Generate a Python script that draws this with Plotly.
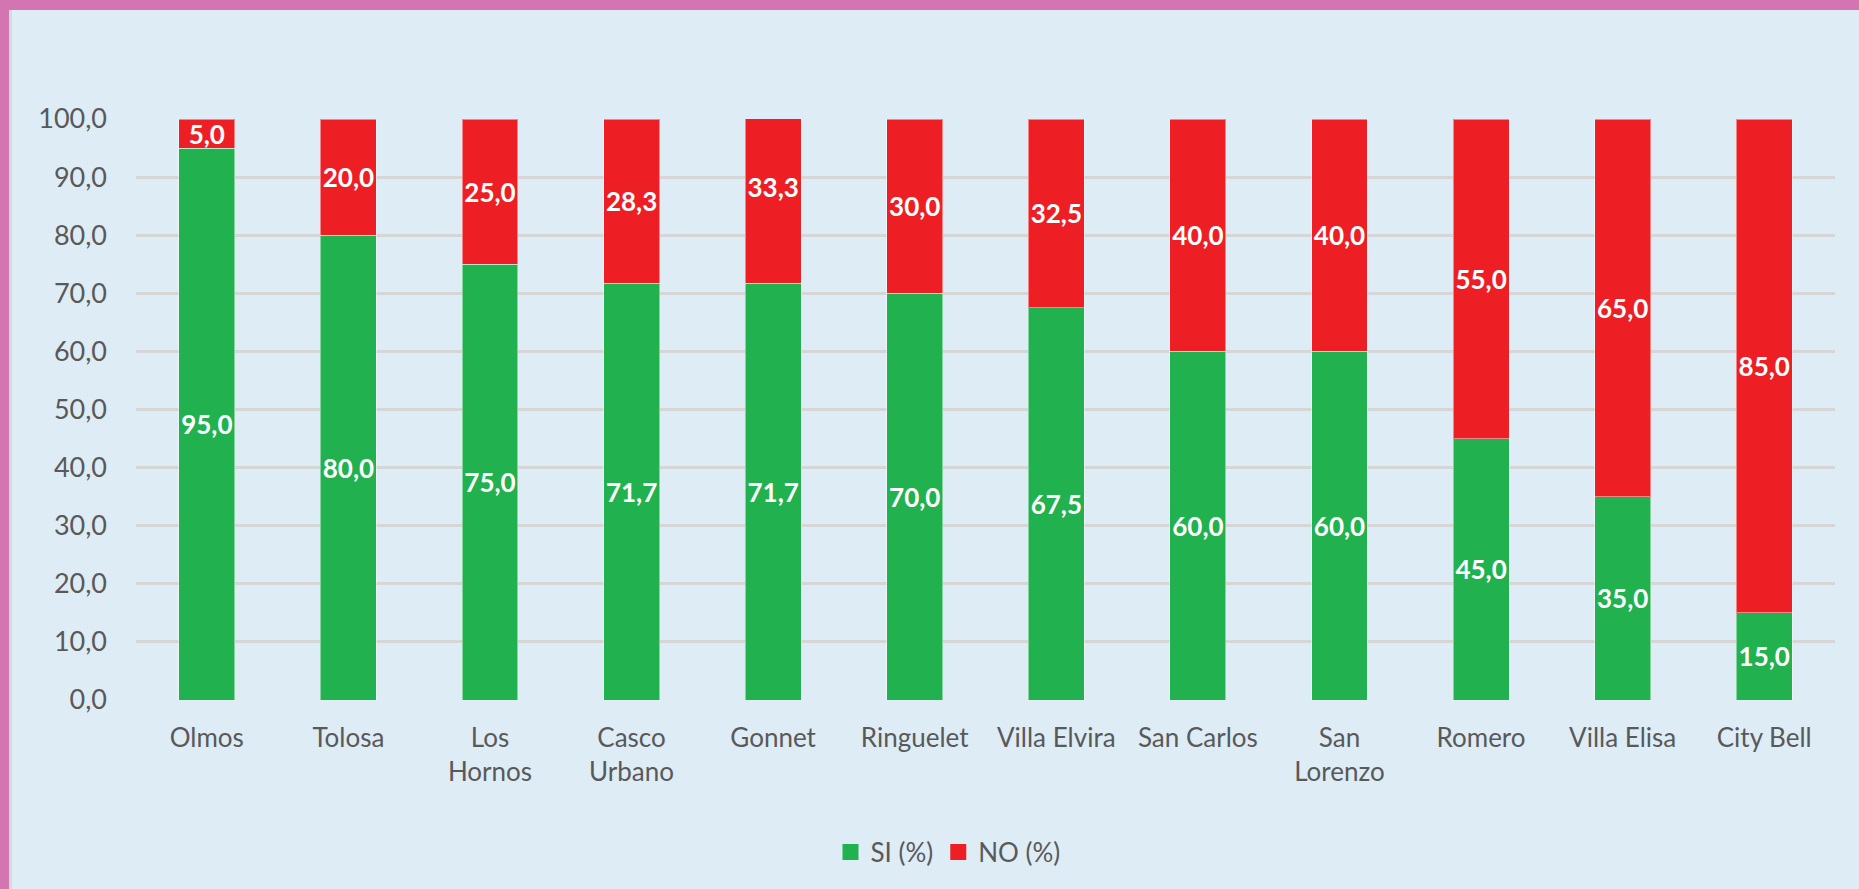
import plotly.graph_objects as go

categories = ["Olmos", "Tolosa", "Los<br>Hornos", "Casco<br>Urbano", "Gonnet", "Ringuelet",
              "Villa Elvira", "San Carlos", "San<br>Lorenzo", "Romero", "Villa Elisa", "City Bell"]
si_values = [95.0, 80.0, 75.0, 71.7, 71.7, 70.0, 67.5, 60.0, 60.0, 45.0, 35.0, 15.0]
no_values = [5.0, 20.0, 25.0, 28.3, 33.3, 30.0, 32.5, 40.0, 40.0, 55.0, 65.0, 85.0]
y_ticks = [0, 10, 20, 30, 40, 50, 60, 70, 80, 90, 100]

W, H = 1859, 889
L, R, T, B = 136, 24, 119, 189
FONT = "Lato, 'Open Sans', sans-serif"
GREY = "#595959"
BG = "#DEECF6"
PINK = "#D375B0"
GREEN = "#21B14F"
RED = "#ED1F24"

def px_x(p):
    return (p - L) / (W - L - R)

def px_y(p):
    return (H - B - p) / (H - T - B)

fig = go.Figure()
for vals, name, col in [(si_values, "SI (%)", GREEN), (no_values, "NO (%)", RED)]:
    fig.add_trace(go.Bar(
        x=categories, y=vals, name=name, showlegend=False,
        marker=dict(color=col, line=dict(color="rgba(255,255,255,0.45)", width=1)),
        text=[f"{v:.1f}".replace(".", ",") for v in vals],
        textposition="inside", insidetextanchor="middle", textangle=0,
        constraintext="none",
        textfont=dict(family=FONT, size=26, color="white", weight="bold"),
        hoverinfo="skip", cliponaxis=True,
    ))
    fig.add_trace(go.Scatter(
        x=[None], y=[None], mode="markers", name=name,
        marker=dict(symbol="square", size=17, color=col),
        hoverinfo="skip",
    ))

shapes = [
    dict(type="rect", xref="paper", yref="paper", x0=px_x(0), x1=px_x(9), y0=px_y(H), y1=px_y(0),
         fillcolor=PINK, line=dict(width=0), layer="below"),
    dict(type="rect", xref="paper", yref="paper", x0=px_x(9), x1=px_x(12), y0=px_y(H), y1=px_y(10),
         fillcolor="#D9D9D9", line=dict(width=0), layer="below"),
    dict(type="rect", xref="paper", yref="paper", x0=px_x(0), x1=px_x(W), y0=px_y(10), y1=px_y(0),
         fillcolor=PINK, line=dict(width=0), layer="below"),
]

fig.update_layout(
    width=W, height=H,
    margin=dict(l=L, r=R, t=T, b=B, pad=0),
    paper_bgcolor=BG, plot_bgcolor=BG,
    barmode="stack", bargap=0.605,
    separators=",.",
    font=dict(family=FONT, size=26, color=GREY),
    showlegend=True,
    legend=dict(orientation="h", x=px_x(948), xanchor="center", y=px_y(852), yanchor="middle",
                font=dict(family=FONT, size=26, color=GREY), bgcolor="rgba(0,0,0,0)",
                traceorder="normal", itemsizing="trace", itemwidth=30),
    xaxis=dict(showgrid=False, showline=False, zeroline=False, ticks="",
               tickfont=dict(family=FONT, size=26, color=GREY), ticklabelstandoff=20),
    yaxis=dict(range=[0, 100], tickvals=y_ticks, tickformat=".1f", showgrid=True,
               gridcolor="#D6D6D6", gridwidth=2.5, zeroline=False, showline=False,
               tickfont=dict(family=FONT, size=27, color=GREY), ticklabelstandoff=28),
    shapes=shapes,
)

fig.write_html("out.html", config={"displayModeBar": False})

with open("out.html", "r", encoding="utf-8") as f:
    html = f.read()
html = html.replace("<head>", "<head><style>html,body{margin:0;padding:0;overflow:hidden;}</style>", 1)
with open("out.html", "w", encoding="utf-8") as f:
    f.write(html)
